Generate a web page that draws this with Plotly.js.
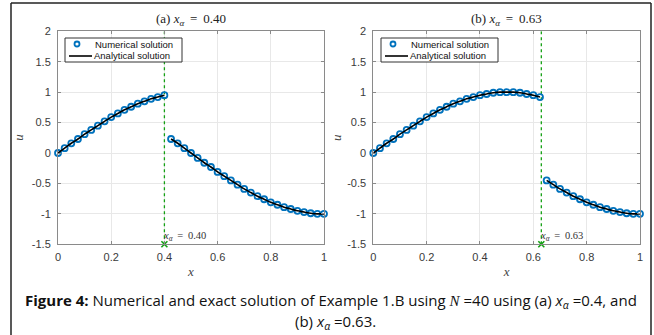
<!DOCTYPE html>
<html>
<head>
<meta charset="utf-8">
<script src="https://cdn.plot.ly/plotly-3.0.1.min.js"></script>
<style>
  html, body { margin: 0; padding: 0; background: #ffffff; }
  #chart { width: 654px; height: 335px; }
</style>
</head>
<body>
<div id="chart"></div>
<script>
// ---- Data ----
// Panel (a): x_alpha = 0.40
const xA1 = [0, 0.025, 0.05, 0.075, 0.1, 0.125, 0.15, 0.175, 0.2, 0.225, 0.25, 0.275, 0.3, 0.325, 0.35, 0.375, 0.4];
const uA1 = [0, 0.08, 0.16, 0.23, 0.31, 0.38, 0.45, 0.52, 0.59, 0.65, 0.71, 0.76, 0.81, 0.85, 0.89, 0.92, 0.95];
const xA2 = [0.425, 0.45, 0.475, 0.5, 0.525, 0.55, 0.575, 0.6, 0.625, 0.65, 0.675, 0.7, 0.725, 0.75, 0.775, 0.8, 0.825, 0.85, 0.875, 0.9, 0.925, 0.95, 0.975, 1];
const uA2 = [0.23, 0.16, 0.08, 0, -0.08, -0.16, -0.23, -0.31, -0.38, -0.45, -0.52, -0.59, -0.65, -0.71, -0.76, -0.81, -0.85, -0.89, -0.92, -0.95, -0.97, -0.99, -1.0, -1.0];
const xAlphaA = 0.40;

// Panel (b): x_alpha = 0.63
const xB1 = [0, 0.025, 0.05, 0.075, 0.1, 0.125, 0.15, 0.175, 0.2, 0.225, 0.25, 0.275, 0.3, 0.325, 0.35, 0.375, 0.4, 0.425, 0.45, 0.475, 0.5, 0.525, 0.55, 0.575, 0.6, 0.625];
const uB1 = [0, 0.08, 0.16, 0.23, 0.31, 0.38, 0.45, 0.52, 0.59, 0.65, 0.71, 0.76, 0.81, 0.85, 0.89, 0.92, 0.95, 0.97, 0.99, 1.0, 1.0, 1.0, 0.99, 0.97, 0.95, 0.92];
const xB2 = [0.65, 0.675, 0.7, 0.725, 0.75, 0.775, 0.8, 0.825, 0.85, 0.875, 0.9, 0.925, 0.95, 0.975, 1];
const uB2 = [-0.45, -0.52, -0.59, -0.65, -0.71, -0.76, -0.81, -0.85, -0.89, -0.92, -0.95, -0.97, -0.99, -1.0, -1.0];
const xAlphaB = 0.63;

const xTicks = [0, 0.2, 0.4, 0.6, 0.8, 1];
const xTickText = ['0', '0.2', '0.4', '0.6', '0.8', '1'];
const yTicks = [-1.5, -1, -0.5, 0, 0.5, 1, 1.5, 2];
const yTickText = ['-1.5', '-1', '-0.5', '0', '0.5', '1', '1.5', '2'];
const legendNames = ['Numerical solution', 'Analytical solution'];

// ---- Styles ----
const W = 654, H = 335;
const blue = '#0072BD';
const green = '#13a013';
const axisCol = '#8a8a8a';
const tickFont = {family: 'Liberation Sans, Arial, sans-serif', size: 11, color: '#3a3a3a'};
const serif = 'Liberation Serif, Times New Roman, serif';
const eq = '\u2009 = \u2009';

function px2x(p) { return p / W; }
function px2y(p) { return 1 - p / H; }

function panelTraces(x1, u1, x2, u2, xa, xr, yr) {
  return [
    {
      x: [xa, xa], y: [-1.5, 2], xaxis: xr, yaxis: yr,
      mode: 'lines', line: {color: green, width: 1.3, dash: 'dot'},
      showlegend: false, hoverinfo: 'skip'
    },
    {
      x: x1.concat(x2), y: u1.concat(u2), xaxis: xr, yaxis: yr,
      mode: 'markers', name: legendNames[0], showlegend: false,
      marker: {symbol: 'circle-open', size: 6, color: blue, line: {width: 1.8, color: blue}},
      cliponaxis: false
    },
    {
      x: x1.concat([null], x2), y: u1.concat([null], u2), xaxis: xr, yaxis: yr,
      mode: 'lines', name: legendNames[1], showlegend: false,
      line: {color: '#000000', width: 1.6, shape: 'spline'}, connectgaps: false,
      cliponaxis: false
    },
    {
      x: [xa], y: [-1.5], xaxis: xr, yaxis: yr,
      mode: 'markers', marker: {symbol: 'x-thin-open', size: 6, color: green, line: {width: 1.6, color: green}},
      showlegend: false, cliponaxis: false, hoverinfo: 'skip'
    }
  ];
}

const data = [].concat(
  panelTraces(xA1, uA1, xA2, uA2, xAlphaA, 'x', 'y'),
  panelTraces(xB1, uB1, xB2, uB2, xAlphaB, 'x2', 'y2')
);

const domA = [px2x(58), px2x(324)];
const domB = [px2x(373.3), px2x(640)];
const domY = [px2y(244.3), px2y(31.3)];

function xAxis(dom, anchor) {
  return {
    domain: dom, anchor: anchor, range: [0, 1],
    tickmode: 'array', tickvals: xTicks, ticktext: xTickText,
    ticks: 'inside', ticklen: 3, tickcolor: axisCol, tickwidth: 1,
    showline: true, linecolor: axisCol, linewidth: 1, mirror: 'allticks',
    showgrid: true, gridcolor: '#e8e8e8', gridwidth: 1, zeroline: false,
    tickfont: tickFont, ticklabelstandoff: 2,
    title: {text: '<i>x</i>', font: {family: serif, size: 13, color: '#444'}, standoff: 5}
  };
}
function yAxis(anchor) {
  return {
    domain: domY, anchor: anchor, range: [-1.5, 2],
    tickmode: 'array', tickvals: yTicks, ticktext: yTickText,
    ticks: 'inside', ticklen: 3, tickcolor: axisCol, tickwidth: 1,
    showline: true, linecolor: axisCol, linewidth: 1, mirror: 'allticks',
    showgrid: true, gridcolor: '#e8e8e8', gridwidth: 1, zeroline: false,
    tickfont: tickFont, ticklabelstandoff: 4,
    title: {text: ''}
  };
}

// Manual legend boxes (compact, MATLAB style)
function legendParts(left, top) {
  const shapes = [
    {type: 'rect', xref: 'paper', yref: 'paper', x0: px2x(left), x1: px2x(left + 117), y0: px2y(top), y1: px2y(top + 24),
     line: {color: '#333', width: 1}, fillcolor: '#ffffff', layer: 'above'},
    {type: 'circle', xref: 'paper', yref: 'paper', x0: px2x(left + 9.5), x1: px2x(left + 14.5), y0: px2y(top + 3.5), y1: px2y(top + 8.5),
     line: {color: blue, width: 1.8}, fillcolor: 'rgba(0,0,0,0)', layer: 'above'},
    {type: 'line', xref: 'paper', yref: 'paper', x0: px2x(left + 4), x1: px2x(left + 27), y0: px2y(top + 18), y1: px2y(top + 18),
     line: {color: '#000', width: 1.6}, layer: 'above'}
  ];
  const ann = [
    {xref: 'paper', yref: 'paper', x: px2x(left + 28), y: px2y(top + 6), xanchor: 'left', yanchor: 'middle', showarrow: false,
     text: legendNames[0], font: {family: 'Liberation Sans, Arial, sans-serif', size: 9.5, color: '#111'}},
    {xref: 'paper', yref: 'paper', x: px2x(left + 27), y: px2y(top + 18), xanchor: 'left', yanchor: 'middle', showarrow: false,
     text: legendNames[1], font: {family: 'Liberation Sans, Arial, sans-serif', size: 9.5, color: '#111'}}
  ];
  return {shapes, ann};
}
const legA = legendParts(65, 38);
const legB = legendParts(381, 38);

const annotations = [
  {xref: 'paper', yref: 'paper', x: (domA[0] + domA[1]) / 2, y: px2y(20), xanchor: 'center', yanchor: 'middle',
   text: '(a) <i>x</i><sub><i>α</i></sub>' + eq + '0.40', showarrow: false, font: {family: serif, size: 13, color: '#222'}},
  {xref: 'paper', yref: 'paper', x: (domB[0] + domB[1]) / 2, y: px2y(20), xanchor: 'center', yanchor: 'middle',
   text: '(b) <i>x</i><sub><i>α</i></sub>' + eq + '0.63', showarrow: false, font: {family: serif, size: 13, color: '#222'}},
  {xref: 'x', yref: 'y', x: xAlphaA, y: -1.5, xanchor: 'left', yanchor: 'bottom', xshift: -3, yshift: -1,
   text: '<i>x</i><sub><i>α</i></sub>' + eq + '0.40', showarrow: false, font: {family: serif, size: 10.5, color: '#333'}},
  {xref: 'x2', yref: 'y2', x: xAlphaB, y: -1.5, xanchor: 'left', yanchor: 'bottom', xshift: -3, yshift: -1,
   text: '<i>x</i><sub><i>α</i></sub>' + eq + '0.63', showarrow: false, font: {family: serif, size: 10.5, color: '#333'}},
  {xref: 'x', yref: 'y', x: 0, y: 0.25, xanchor: 'center', yanchor: 'middle', textangle: -90, xshift: -39,
   text: '<i>u</i>', showarrow: false, font: {family: serif, size: 13, color: '#444'}},
  {xref: 'x2', yref: 'y2', x: 0, y: 0.25, xanchor: 'center', yanchor: 'middle', textangle: -90, xshift: -37,
   text: '<i>u</i>', showarrow: false, font: {family: serif, size: 13, color: '#444'}},
  {xref: 'paper', yref: 'paper', x: px2x(331), y: px2y(301), xanchor: 'center', yanchor: 'middle',
   text: '<b>Figure 4:</b> Numerical and exact solution of Example 1.B using <span style="font-family:Liberation Serif"><i>N</i></span> =40 using (a) <i>x</i><sub><i>α</i></sub> =0.4, and',
   showarrow: false, font: {family: 'Open Sans, Noto Sans, sans-serif', size: 15, color: '#111'}},
  {xref: 'paper', yref: 'paper', x: px2x(335), y: px2y(322), xanchor: 'center', yanchor: 'middle',
   text: '(b) <i>x</i><sub><i>α</i></sub> =0.63.',
   showarrow: false, font: {family: 'Open Sans, Noto Sans, sans-serif', size: 15, color: '#111'}}
].concat(legA.ann, legB.ann);

const shapes = [
  {type: 'line', xref: 'paper', yref: 'paper', x0: px2x(11), x1: px2x(11), y0: px2y(3), y1: -0.05, line: {color: '#222', width: 1.5}},
  {type: 'line', xref: 'paper', yref: 'paper', x0: px2x(11), x1: px2x(651), y0: px2y(3), y1: px2y(3), line: {color: '#222', width: 1.5}},
  {type: 'line', xref: 'paper', yref: 'paper', x0: px2x(651), x1: px2x(651), y0: px2y(3), y1: -0.05, line: {color: '#222', width: 1.5}}
].concat(legA.shapes, legB.shapes);

const layout = {
  width: W, height: H,
  margin: {l: 0, r: 0, t: 0, b: 0},
  paper_bgcolor: '#ffffff', plot_bgcolor: '#ffffff',
  showlegend: false,
  xaxis: xAxis(domA, 'y'), yaxis: yAxis('x'),
  xaxis2: xAxis(domB, 'y2'), yaxis2: yAxis('x2'),
  annotations: annotations,
  shapes: shapes
};

Plotly.newPlot('chart', data, layout, {displayModeBar: false, staticPlot: true});
</script>
</body>
</html>
